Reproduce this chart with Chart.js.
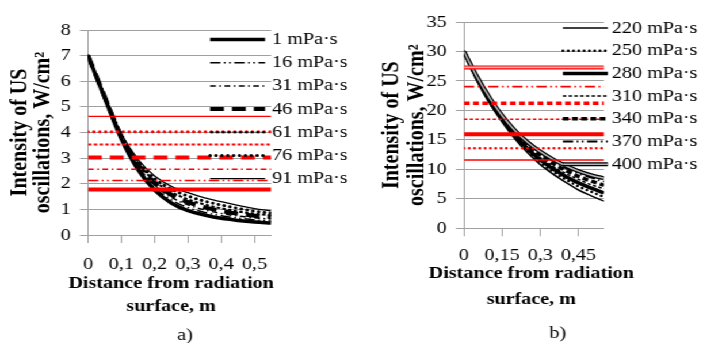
<!DOCTYPE html>
<html>
<head>
<meta charset="utf-8">
<script src="https://cdn.jsdelivr.net/npm/chart.js@4.4.1/dist/chart.umd.min.js"></script>
<style>
  body { margin: 0; background: #fff; }
  /* the original figure is a bit wider than it is tall, so the whole thing is stretched */
  #wrap { position: absolute; left: 0; top: 0; width: 611px; height: 343px; transform: scaleX(1.1506); transform-origin: 0 0; }
  canvas { position: absolute; top: 0; }
</style>
</head>
<body>
<div id="wrap">
  <canvas id="chart-a" width="304" height="343" style="left:0"></canvas>
  <canvas id="chart-b" width="307" height="343" style="left:304px"></canvas>
</div>
<script>
// Distance from radiation surface, m
const distances = [0, 0.05, 0.1, 0.15, 0.2, 0.25, 0.3, 0.35, 0.4, 0.45, 0.5, 0.55];

// a) low viscosity, W/cm2
const labelsA = ['1 mPa·s', '16 mPa·s', '31 mPa·s', '46 mPa·s', '61 mPa·s', '76 mPa·s', '91 mPa·s'];
const intens1  = [7.0, 5.35, 3.75, 2.55, 1.75, 1.25, 0.95, 0.78, 0.65, 0.57, 0.51, 0.47];
const intens16 = [7.0, 5.37, 3.78, 2.62, 1.85, 1.37, 1.07, 0.88, 0.75, 0.66, 0.59, 0.55];
const intens31 = [7.0, 5.38, 3.81, 2.68, 1.94, 1.47, 1.18, 0.98, 0.84, 0.74, 0.67, 0.62];
const intens46 = [7.0, 5.40, 3.84, 2.75, 2.02, 1.57, 1.28, 1.08, 0.94, 0.83, 0.75, 0.70];
const intens61 = [7.0, 5.41, 3.87, 2.81, 2.11, 1.68, 1.39, 1.19, 1.04, 0.92, 0.83, 0.77];
const intens76 = [7.0, 5.43, 3.91, 2.88, 2.20, 1.79, 1.52, 1.32, 1.17, 1.04, 0.93, 0.85];
const intens91 = [7.0, 5.45, 3.95, 2.95, 2.30, 1.90, 1.65, 1.45, 1.30, 1.16, 1.03, 0.94];
const thresholdsA = [1.78, 2.13, 2.57, 3.02, 3.53, 4.03, 4.63];
const xTicksA = ['0', '0,1', '0,2', '0,3', '0,4', '0,5'];

// b) high viscosity, W/cm2
const labelsB = ['220 mPa·s', '250 mPa·s', '280 mPa·s', '310 mPa·s', '340 mPa·s', '370 mPa·s', '400 mPa·s'];
const intens220 = [30, 25.3, 21.3, 18.0, 15.2, 12.8, 10.8, 9.2, 7.8, 6.5, 5.5, 4.6];
const intens250 = [30, 25.4, 21.5, 18.3, 15.5, 13.2, 11.2, 9.6, 8.3, 7.1, 6.2, 5.3];
const intens280 = [30, 25.5, 21.6, 18.5, 15.8, 13.5, 11.6, 10.1, 8.8, 7.7, 6.8, 6.0];
const intens310 = [30, 25.5, 21.8, 18.7, 16.0, 13.8, 12.0, 10.5, 9.3, 8.3, 7.4, 6.7];
const intens340 = [30, 25.6, 21.9, 18.8, 16.2, 14.1, 12.4, 11.0, 9.8, 8.8, 8.0, 7.3];
const intens370 = [30, 25.7, 22.0, 19.0, 16.4, 14.4, 12.7, 11.4, 10.2, 9.3, 8.6, 7.9];
const intens400 = [30, 25.8, 22.2, 19.1, 16.6, 14.6, 13.0, 11.7, 10.6, 9.7, 9.0, 8.5];
const thresholdsB = [11.6, 13.6, 15.95, 18.5, 21.2, 24.05, 27.3];
const xTicksB = ['0', '0,15', '0,3', '0,45'];

const xTitle = ['Distance from radiation', 'surface, m'];
const yTitle = ['Intensity of US', 'oscillations, W/cm²'];

const X_MAX = 0.55;
const RED = '#ff0000';
const GRID = '#a0a0a0';
const SERIF = '"Liberation Serif", "Times New Roman", serif';

// line styles, one per viscosity (same style for black curve and red level)
const stylesA = [
    { width: 3.5, redWidth: 4 },
    { width: 1.5, dash: [9, 3, 1.5, 3, 1.5, 3] },
    { width: 1.5, dash: [5, 3, 1.5, 3] },
    { width: 4, dash: [12, 7] },
    { width: 2, dash: [3, 2] },
    { width: 3, dash: [0.1, 5], cap: 'round' },
    { width: 1.3 }
];
const stylesB = [
    { width: 1.5 },
    { width: 2.5, dash: [0.1, 4.5], cap: 'round' },
    { width: 3.5, redWidth: 4 },
    { width: 1.5, dash: [3, 2] },
    { width: 3.5, dash: [5, 3] },
    { width: 1.8, dash: [9, 3, 1.5, 3, 1.5, 3] },
    { width: 4, inner: '#b4b4b4', redInner: '#f6b0b0', innerWidth: 1.6 }
];

Chart.defaults.font.family = SERIF;
Chart.defaults.color = '#000';

function points(values) {
    return values.map((v, i) => ({ x: distances[i], y: v }));
}

function buildDatasets(labels, series, thresholds, styles) {
    const sets = [];
    series.forEach((values, i) => {
        const st = styles[i];
        sets.push({
            label: labels[i],
            legend: true,
            data: points(values),
            borderColor: '#000',
            borderWidth: st.width,
            borderDash: st.dash || [],
            borderCapStyle: st.cap || 'butt',
            cubicInterpolationMode: 'monotone',
            order: 3
        });
        if (st.inner) {
            sets.push({
                label: labels[i] + ' inner',
                legendSameRow: true,
                data: points(values),
                borderColor: st.inner,
                borderWidth: st.innerWidth,
                cubicInterpolationMode: 'monotone',
                order: 2
            });
        }
    });
    thresholds.forEach((t, i) => {
        const st = styles[i];
        const level = [{ x: 0, y: t }, { x: X_MAX, y: t }];
        sets.push({
            label: 'level ' + labels[i],
            data: level,
            borderColor: RED,
            borderWidth: st.redWidth || st.width,
            borderDash: st.dash || [],
            borderCapStyle: st.cap || 'butt',
            order: 1
        });
        if (st.redInner) {
            sets.push({
                label: 'level inner ' + labels[i],
                data: level,
                borderColor: st.redInner,
                borderWidth: st.innerWidth,
                order: 0
            });
        }
    });
    return sets;
}

// legend drawn over the plot area like in the original, plus x title and a)/b) caption
// (the x title is wider than the plot, Chart.js would squeeze it)
const sideLegend = {
    id: 'sideLegend',
    afterDatasetsDraw(chart, args, opts) {
        const ctx = chart.ctx;
        ctx.save();
        ctx.font = '17.5px ' + SERIF;
        ctx.textBaseline = 'middle';
        ctx.fillStyle = '#000';
        let row = -1;
        chart.data.datasets.forEach(ds => {
            if (!ds.legend && !ds.legendSameRow) return;
            if (ds.legend) row++;
            const y = opts.top + row * opts.step;
            ctx.beginPath();
            ctx.strokeStyle = ds.borderColor;
            ctx.lineWidth = ds.borderWidth;
            ctx.setLineDash(ds.borderDash || []);
            ctx.lineCap = ds.borderCapStyle || 'butt';
            ctx.moveTo(opts.x1, y);
            ctx.lineTo(opts.x2, y);
            ctx.stroke();
            if (ds.legend) ctx.fillText(ds.label, opts.textX, y);
        });
        ctx.textAlign = 'center';
        ctx.fillText(opts.caption, opts.captionX, opts.captionY);
        ctx.font = 'bold 17.5px ' + SERIF;
        xTitle.forEach((line, i) => {
            ctx.fillText(line, opts.titleX, opts.titleY + i * opts.titleStep);
        });
        ctx.restore();
    }
};

function makeChart(canvasId, cfg) {
    return new Chart(document.getElementById(canvasId), {
        type: 'line',
        data: { datasets: cfg.datasets },
        plugins: [sideLegend],
        options: {
            responsive: false,
            animation: false,
            elements: { point: { radius: 0 } },
            layout: { padding: cfg.padding },
            plugins: {
                legend: { display: false },
                tooltip: { enabled: false },
                sideLegend: cfg.legend
            },
            scales: {
                x: {
                    type: 'linear',
                    min: 0,
                    max: X_MAX,
                    ticks: {
                        stepSize: cfg.xStep,
                        includeBounds: false,
                        autoSkip: false,
                        maxRotation: 0,
                        padding: cfg.xTickPad,
                        font: { size: 17.5 },
                        callback: (value, index) => cfg.xTicks[index]
                    },
                    grid: { drawOnChartArea: false, color: GRID, tickLength: 8 },
                    border: { color: GRID },
                    afterFit: scale => { scale.height = cfg.xHeight; }
                },
                y: {
                    min: 0,
                    max: cfg.yMax,
                    ticks: { stepSize: cfg.yStep, padding: 8, font: { size: 17.5 } },
                    grid: { color: GRID, tickLength: 7 },
                    border: { color: GRID },
                    title: {
                        display: true,
                        text: yTitle,
                        font: { size: 20, weight: 'bold', lineHeight: cfg.yTitleLine },
                        padding: { top: cfg.yTitlePad, bottom: 0 }
                    },
                    afterFit: scale => { scale.width = cfg.yWidth; }
                }
            }
        }
    });
}

makeChart('chart-a', {
    datasets: buildDatasets(labelsA,
        [intens1, intens16, intens31, intens46, intens61, intens76, intens91],
        thresholdsA, stylesA),
    padding: { top: 30, right: 68.3, left: 0, bottom: 0 },
    xStep: 0.1, xTicks: xTicksA, xHeight: 108, xTickPad: 11,
    yMax: 8, yStep: 1, yWidth: 76.5, yTitleLine: 1.0, yTitlePad: 7.4,
    legend: { top: 39.5, step: 23.2, x1: 182.6, x2: 230.4, textX: 236.5,
              titleX: 148.7, titleY: 283.5, titleStep: 23,
              caption: 'a)', captionX: 160.9, captionY: 335 }
});

makeChart('chart-b', {
    datasets: buildDatasets(labelsB,
        [intens220, intens250, intens280, intens310, intens340, intens370, intens400],
        thresholdsB, stylesB),
    padding: { top: 22, right: 86.1, left: 0, bottom: 0 },
    xStep: 0.15, xTicks: xTicksB, xHeight: 114.7, xTickPad: 9,
    yMax: 35, yStep: 5, yWidth: 99.2, yTitleLine: 1.13, yTitlePad: 25.3,
    legend: { top: 28, step: 22.7, x1: 185.2, x2: 224.3, textX: 227.8,
              titleX: 157.8, titleY: 273, titleStep: 26.5,
              caption: 'b)', captionX: 180.9, captionY: 333 }
});
</script>
</body>
</html>
